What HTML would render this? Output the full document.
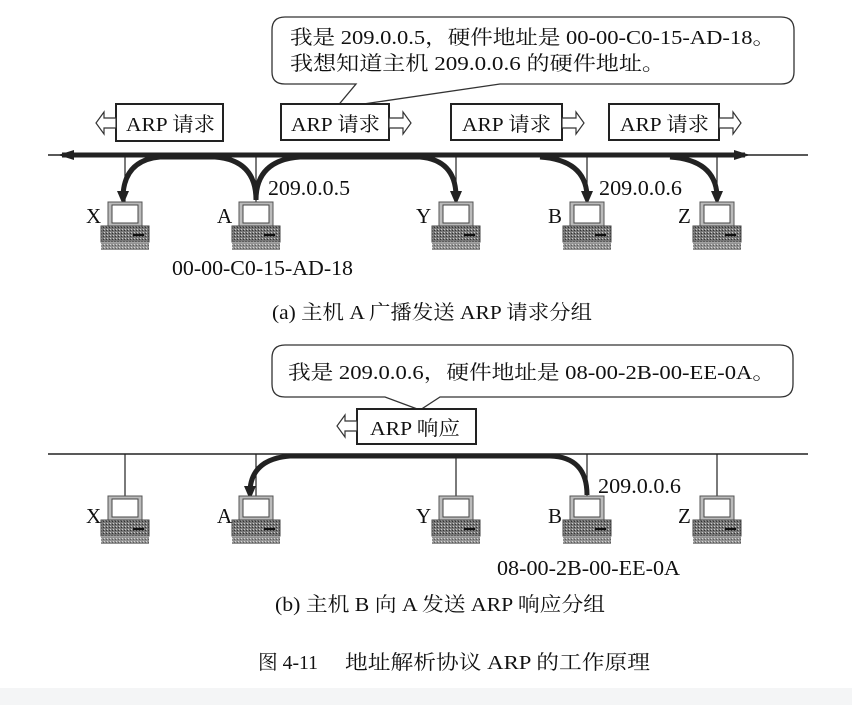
<!DOCTYPE html>
<html><head><meta charset="utf-8"><style>
body{margin:0;background:#fff}
svg{display:block}
text{font-family:"Liberation Serif","Noto Serif CJK SC",serif;fill:#111}
</style></head><body>
<svg width="852" height="705" viewBox="0 0 852 705" xmlns="http://www.w3.org/2000/svg">
<defs>
<pattern id="dots" width="3" height="3" patternUnits="userSpaceOnUse"><rect width="3" height="3" fill="#777"/><rect width="1" height="1" fill="#ccc"/><rect x="2" y="1" width="1" height="1" fill="#333"/></pattern>
<g id="pc">
<rect x="-17" y="0" width="34" height="24" fill="#bbb" stroke="#555" stroke-width="1"/>
<rect x="-13" y="3" width="26" height="18" fill="#fff" stroke="#444" stroke-width="1"/>
<rect x="-24" y="24" width="48" height="16" fill="url(#dots)" stroke="#444" stroke-width="1"/>
<rect x="8" y="32" width="11" height="2" fill="#111"/>
<rect x="-24" y="41" width="48" height="7" fill="url(#dots)" opacity="0.8"/>
</g>
</defs>
<rect x="0" y="688" width="852" height="17" fill="#f4f5f6"/>

<!-- TOP -->
<path d="M272,30 Q272,17 285,17 L781,17 Q794,17 794,30 L794,72 Q794,84 781,84 L500,84 L336,108 L356,84 L285,84 Q272,84 272,72 Z" fill="#fff" stroke="#333" stroke-width="1.3"/>
<text x="290" y="44" font-size="20" textLength="485" lengthAdjust="spacingAndGlyphs">我是 209.0.0.5，硬件地址是 00-00-C0-15-AD-18。</text>
<text x="290" y="70" font-size="20" textLength="375" lengthAdjust="spacingAndGlyphs">我想知道主机 209.0.0.6 的硬件地址。</text>

<g stroke="#222" stroke-width="2" fill="#fff">
<rect x="116" y="104" width="107" height="37"/>
<rect x="281" y="104" width="108" height="36"/>
<rect x="451" y="104" width="111" height="36"/>
<rect x="609" y="104" width="110" height="36"/>
</g>
<g fill="#fff" stroke="#333" stroke-width="1.2">
<path d="M116,118 L104,118 L104,112 L96,123 L104,134 L104,128 L116,128 Z"/>
<path d="M389,118 L403,118 L403,112 L411,123 L403,134 L403,128 L389,128 Z"/>
<path d="M562,118 L576,118 L576,112 L584,123 L576,134 L576,128 L562,128 Z"/>
<path d="M719,118 L733,118 L733,112 L741,123 L733,134 L733,128 L719,128 Z"/>
</g>
<g font-size="20"><text x="126" y="131" textLength="89" lengthAdjust="spacingAndGlyphs">ARP 请求</text><text x="291" y="131" textLength="89" lengthAdjust="spacingAndGlyphs">ARP 请求</text><text x="462" y="131" textLength="89" lengthAdjust="spacingAndGlyphs">ARP 请求</text><text x="620" y="131" textLength="89" lengthAdjust="spacingAndGlyphs">ARP 请求</text></g>

<line x1="48" y1="155" x2="808" y2="155" stroke="#222" stroke-width="1.5"/>
<g stroke="#222" stroke-width="1.2">
<line x1="125" y1="155" x2="125" y2="203"/><line x1="256" y1="155" x2="256" y2="203"/>
<line x1="456" y1="155" x2="456" y2="203"/><line x1="587" y1="155" x2="587" y2="203"/><line x1="717" y1="155" x2="717" y2="203"/>
</g>
<g fill="none" stroke="#222" stroke-width="5">
<line x1="62" y1="155" x2="745" y2="155"/>
<path d="M256,200 Q256,160 215,157 L160,157 Q125,160 123,195"/>
<path d="M256,200 Q256,160 300,157 L420,157 Q455,160 456,195"/>
<path d="M540,157 Q585,160 587,195"/>
<path d="M670,157 Q715,160 717,195"/>
</g>
<g fill="#222">
<path d="M58,155 L74,150 L74,160 Z"/><path d="M750,155 L734,150 L734,160 Z"/>
<path d="M123,205 L117,191 L129,191 Z"/><path d="M456,205 L450,191 L462,191 Z"/>
<path d="M587,205 L581,191 L593,191 Z"/><path d="M717,205 L711,191 L723,191 Z"/>
</g>
<use href="#pc" x="125" y="202"/><use href="#pc" x="256" y="202"/><use href="#pc" x="456" y="202"/><use href="#pc" x="587" y="202"/><use href="#pc" x="717" y="202"/>
<g font-size="21">
<text x="86" y="223">X</text><text x="217" y="223">A</text><text x="416" y="223">Y</text><text x="548" y="223">B</text><text x="678" y="223">Z</text>
<text x="268" y="195" textLength="82" lengthAdjust="spacingAndGlyphs">209.0.0.5</text><text x="599" y="195" textLength="83" lengthAdjust="spacingAndGlyphs">209.0.0.6</text>
<text x="172" y="275" textLength="181" lengthAdjust="spacingAndGlyphs">00-00-C0-15-AD-18</text>
<text x="272" y="319" font-size="20" textLength="320" lengthAdjust="spacingAndGlyphs">(a) 主机 A 广播发送 ARP 请求分组</text>
</g>

<!-- BOTTOM -->
<path d="M272,358 Q272,345 285,345 L780,345 Q793,345 793,358 L793,384 Q793,397 780,397 L440,397 L420,410 L385,397 L285,397 Q272,397 272,384 Z" fill="#fff" stroke="#333" stroke-width="1.3"/>
<text x="288" y="379" font-size="20" textLength="487" lengthAdjust="spacingAndGlyphs">我是 209.0.0.6，硬件地址是 08-00-2B-00-EE-0A。</text>
<rect x="357" y="409" width="119" height="35" fill="#fff" stroke="#222" stroke-width="2"/>
<path d="M357,421 L345,421 L345,415 L337,426 L345,437 L345,431 L357,431 Z" fill="#fff" stroke="#333" stroke-width="1.2"/>
<text x="370" y="435" font-size="20" textLength="90" lengthAdjust="spacingAndGlyphs">ARP 响应</text>
<line x1="48" y1="454" x2="808" y2="454" stroke="#222" stroke-width="1.5"/>
<g stroke="#222" stroke-width="1.2">
<line x1="125" y1="454" x2="125" y2="497"/><line x1="256" y1="454" x2="256" y2="497"/>
<line x1="456" y1="454" x2="456" y2="497"/><line x1="587" y1="454" x2="587" y2="497"/><line x1="717" y1="454" x2="717" y2="497"/>
</g>
<path d="M587,495 Q587,457 550,456 L290,456 Q252,459 250,490" fill="none" stroke="#222" stroke-width="5"/>
<path d="M250,500 L244,486 L256,486 Z" fill="#222"/>
<use href="#pc" x="125" y="496"/><use href="#pc" x="256" y="496"/><use href="#pc" x="456" y="496"/><use href="#pc" x="587" y="496"/><use href="#pc" x="717" y="496"/>
<g font-size="21">
<text x="86" y="523">X</text><text x="217" y="523">A</text><text x="416" y="523">Y</text><text x="548" y="523">B</text><text x="678" y="523">Z</text>
<text x="598" y="493" textLength="83" lengthAdjust="spacingAndGlyphs">209.0.0.6</text>
<text x="497" y="575" textLength="183" lengthAdjust="spacingAndGlyphs">08-00-2B-00-EE-0A</text>
<text x="275" y="611" font-size="20" textLength="330" lengthAdjust="spacingAndGlyphs">(b) 主机 B 向 A 发送 ARP 响应分组</text>
<text x="258" y="669" font-size="20" textLength="60" lengthAdjust="spacingAndGlyphs">图 4-11</text>
<text x="345" y="669" font-size="20" textLength="305" lengthAdjust="spacingAndGlyphs">地址解析协议 ARP 的工作原理</text>
</g>
</svg>
</body></html>
